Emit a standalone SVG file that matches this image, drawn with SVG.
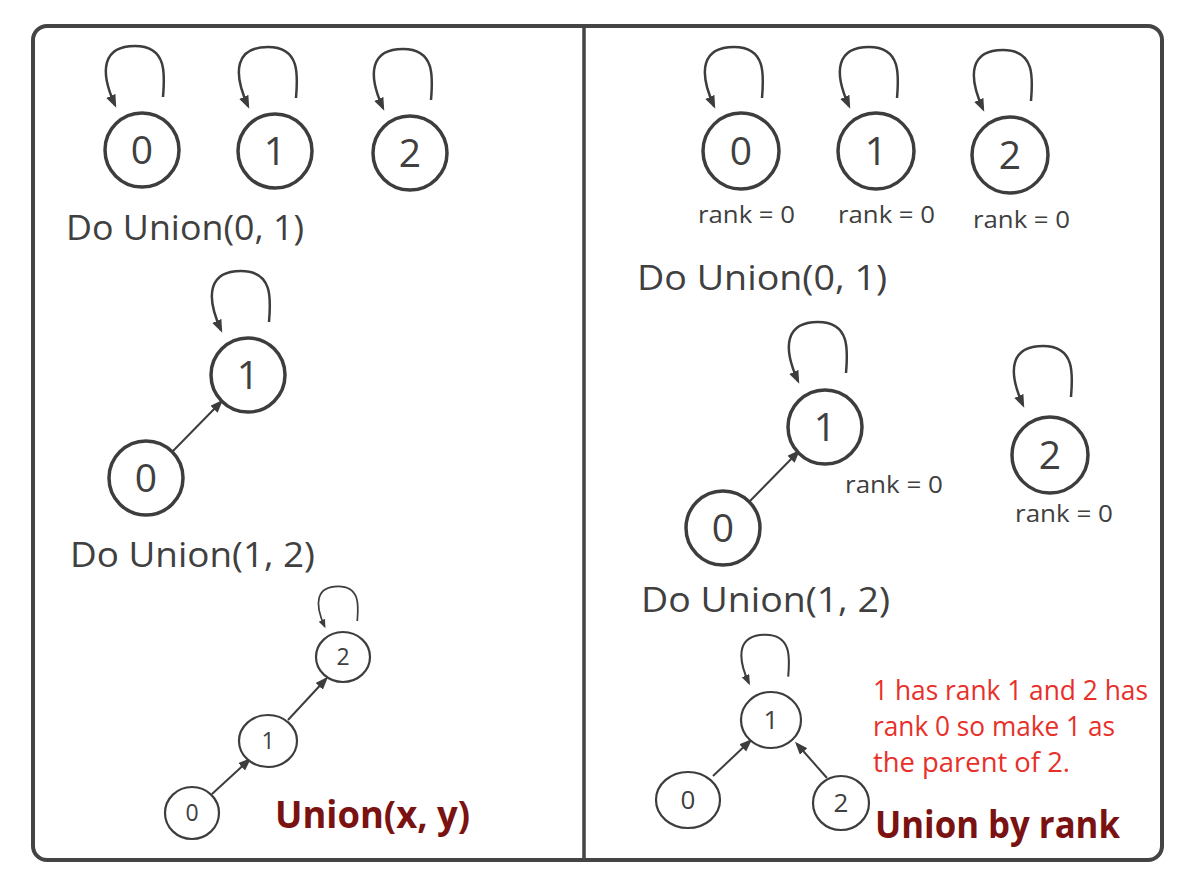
<svg xmlns="http://www.w3.org/2000/svg" width="1194" height="882" viewBox="0 0 1194 882">
<defs>
<marker id="ah" markerUnits="userSpaceOnUse" markerWidth="14" markerHeight="12" refX="10" refY="5" orient="auto">
<path d="M0,0 L13,5 L0,10 z" fill="#3d3d3d"/>
</marker>
<style>
.frame{fill:none;stroke:#444;stroke-width:4}
.div{stroke:#444;stroke-width:3.5}
.node{fill:#fff;stroke:#3d3d3d;stroke-width:3.5}
.snode{fill:#fff;stroke:#3d3d3d;stroke-width:2.2}
.loop{fill:none;stroke:#3d3d3d;stroke-width:2.5;marker-end:url(#ah)}
.edge{fill:none;stroke:#3d3d3d;stroke-width:2;marker-end:url(#ah)}
.num{font-family:"Open Sans",sans-serif;font-size:39px;fill:#404040;text-anchor:middle}
.snum{font-family:"Open Sans",sans-serif;font-size:23px;fill:#404040;text-anchor:middle}
.lbl{font-family:"Open Sans",sans-serif;font-size:35px;fill:#404040}
.rank{font-family:"Open Sans",sans-serif;font-size:23px;fill:#404040}
.red{font-family:"Open Sans",sans-serif;font-size:26.5px;fill:#e8302a}
.title{font-family:"Open Sans",sans-serif;font-weight:bold;font-size:37px;fill:#7a1212}
</style>
</defs>
<g id="frame">
<rect class="frame" x="33" y="26" width="1129" height="834" rx="14"/>
<line class="div" x1="584" y1="26" x2="584" y2="860"/>
</g>
<g id="connectors">
<path class="loop" transform="translate(142,150)" d="M21,-53 C23,-76 25,-104 -7,-104 C-39,-104 -43,-80 -27,-45"/>
<path class="loop" transform="translate(275,151)" d="M21,-53 C23,-76 25,-104 -7,-104 C-39,-104 -43,-80 -27,-45"/>
<path class="loop" transform="translate(410,153)" d="M21,-53 C23,-76 25,-104 -7,-104 C-39,-104 -43,-80 -27,-45"/>
<path class="loop" transform="translate(248,375)" d="M21,-53 C23,-76 25,-104 -7,-104 C-39,-104 -43,-80 -27,-45"/>
<path class="edge" d="M172,452 L221,402"/>
<path class="loop" transform="translate(343,657) scale(0.68)" d="M21,-53 C23,-76 25,-104 -7,-104 C-39,-104 -43,-80 -27,-45"/>
<path class="edge" d="M288,720 L326,679"/>
<path class="edge" d="M212,794 L249,760"/>
<path class="loop" transform="translate(741,151)" d="M21,-53 C23,-76 25,-104 -7,-104 C-39,-104 -43,-80 -27,-45"/>
<path class="loop" transform="translate(876,151)" d="M21,-53 C23,-76 25,-104 -7,-104 C-39,-104 -43,-80 -27,-45"/>
<path class="loop" transform="translate(1010,154)" d="M21,-53 C23,-76 25,-104 -7,-104 C-39,-104 -43,-80 -27,-45"/>
<path class="loop" transform="translate(825,426)" d="M21,-53 C23,-76 25,-104 -7,-104 C-39,-104 -43,-80 -27,-45"/>
<path class="loop" transform="translate(1050,450)" d="M21,-53 C23,-76 25,-104 -7,-104 C-39,-104 -43,-80 -27,-45"/>
<path class="edge" d="M750,501 L798,452"/>
<path class="loop" transform="translate(771,720) scale(0.82)" d="M21,-53 C23,-76 25,-104 -7,-104 C-39,-104 -43,-80 -27,-45"/>
<path class="edge" d="M713,776 L750,741"/>
<path class="edge" d="M827,778 L797,744"/>
</g>
<g id="left-top-0"><circle class="node" cx="142" cy="150" r="37"/><text class="num" x="142" y="164">0</text></g>
<g id="left-top-1"><circle class="node" cx="275" cy="151" r="37"/><text class="num" x="275" y="165">1</text></g>
<g id="left-top-2"><circle class="node" cx="410" cy="153" r="37"/><text class="num" x="410" y="167">2</text></g>
<g id="left-label-1"><text class="lbl" x="66" y="240" textLength="238" lengthAdjust="spacingAndGlyphs">Do Union(0, 1)</text></g>
<g id="left-mid-1"><circle class="node" cx="248" cy="375" r="37"/><text class="num" x="248" y="389">1</text></g>
<g id="left-mid-0"><circle class="node" cx="146" cy="478" r="37"/><text class="num" x="146" y="492">0</text></g>
<g id="left-label-2"><text class="lbl" x="70" y="567" textLength="245" lengthAdjust="spacingAndGlyphs">Do Union(1, 2)</text></g>
<g id="left-bot-2"><ellipse class="snode" cx="343" cy="657" rx="27" ry="25"/><text class="snum" x="343" y="665">2</text></g>
<g id="left-bot-1"><ellipse class="snode" cx="268" cy="741" rx="29" ry="26"/><text class="snum" x="268" y="749">1</text></g>
<g id="left-bot-0"><ellipse class="snode" cx="192" cy="813" rx="27" ry="26"/><text class="snum" x="192" y="821">0</text></g>
<g id="left-title"><text class="title" x="275" y="828" textLength="195" lengthAdjust="spacingAndGlyphs">Union(x, y)</text></g>

<g id="right-top-0"><circle class="node" cx="741" cy="151" r="38"/><text class="num" x="741" y="165">0</text><text class="rank" x="698" y="223" textLength="97" lengthAdjust="spacingAndGlyphs">rank = 0</text></g>
<g id="right-top-1"><circle class="node" cx="876" cy="151" r="38"/><text class="num" x="876" y="165">1</text><text class="rank" x="838" y="223" textLength="97" lengthAdjust="spacingAndGlyphs">rank = 0</text></g>
<g id="right-top-2"><circle class="node" cx="1010" cy="155" r="38"/><text class="num" x="1010" y="169">2</text><text class="rank" x="973" y="228" textLength="97" lengthAdjust="spacingAndGlyphs">rank = 0</text></g>
<g id="right-label-1"><text class="lbl" x="637" y="290" textLength="250" lengthAdjust="spacingAndGlyphs">Do Union(0, 1)</text></g>
<g id="right-mid-1"><circle class="node" cx="825" cy="427" r="37"/><text class="num" x="825" y="441">1</text><text class="rank" x="845" y="493" textLength="98" lengthAdjust="spacingAndGlyphs">rank = 0</text></g>
<g id="right-mid-0"><circle class="node" cx="723" cy="528" r="37"/><text class="num" x="723" y="542">0</text></g>
<g id="right-mid-2"><circle class="node" cx="1050" cy="455" r="38"/><text class="num" x="1050" y="469">2</text><text class="rank" x="1015" y="522" textLength="98" lengthAdjust="spacingAndGlyphs">rank = 0</text></g>
<g id="right-label-2"><text class="lbl" x="641" y="612" textLength="249" lengthAdjust="spacingAndGlyphs">Do Union(1, 2)</text></g>
<g id="right-bot-1"><ellipse class="snode" cx="771" cy="720" rx="30" ry="28"/><text class="snum" x="771" y="729" style="font-size:26px">1</text></g>
<g id="right-bot-0"><ellipse class="snode" cx="688" cy="800" rx="32" ry="28"/><text class="snum" x="688" y="809" style="font-size:26px">0</text></g>
<g id="right-bot-2"><ellipse class="snode" cx="841" cy="803" rx="28" ry="27"/><text class="snum" x="841" y="812" style="font-size:26px">2</text></g>
<g id="right-note">
<text class="red" x="873" y="700" textLength="275" lengthAdjust="spacingAndGlyphs">1 has rank 1 and 2 has</text>
<text class="red" x="873" y="736" textLength="242" lengthAdjust="spacingAndGlyphs">rank 0 so make 1 as</text>
<text class="red" x="873" y="772" textLength="197" lengthAdjust="spacingAndGlyphs">the parent of 2.</text>
</g>
<g id="right-title"><text class="title" x="875" y="838" textLength="245" lengthAdjust="spacingAndGlyphs">Union by rank</text></g>
</svg>
